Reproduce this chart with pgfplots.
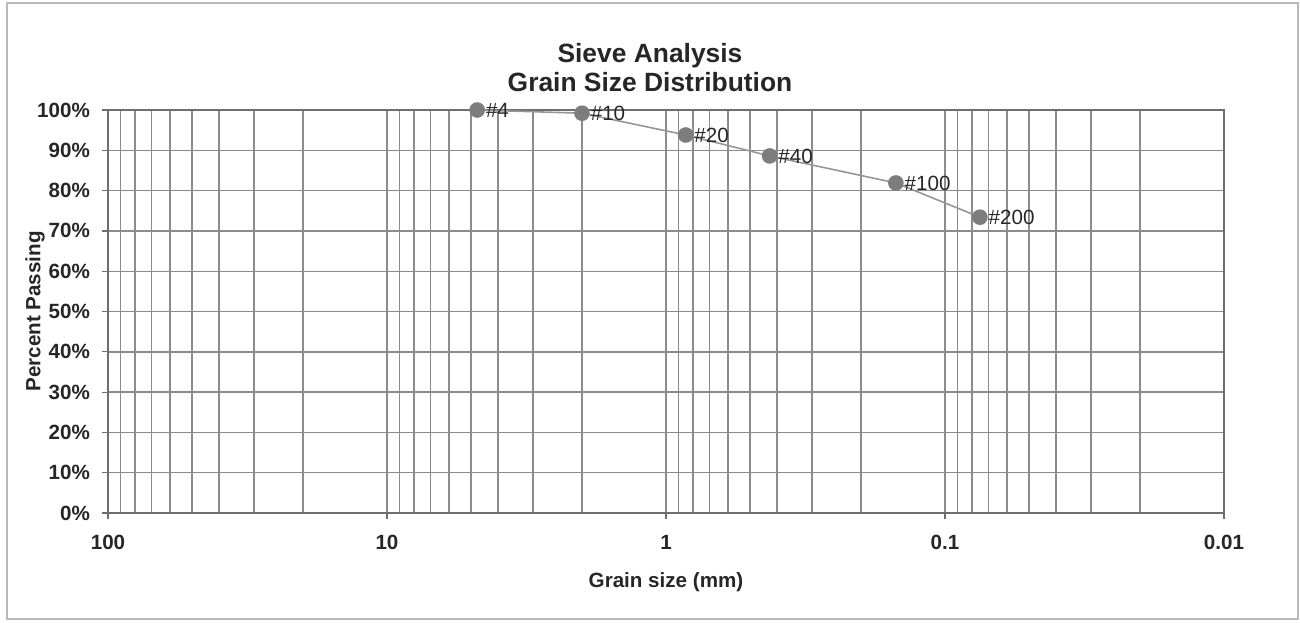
\documentclass[border=0pt]{standalone}
\usepackage{fontspec}
\setmainfont{Liberation Sans}
\usepackage{pgfplots}
\pgfplotsset{compat=1.18}
\definecolor{gridgray}{RGB}{140,140,140}
\definecolor{framegray}{RGB}{110,110,110}
\definecolor{markgray}{RGB}{125,125,125}
\definecolor{linegray}{RGB}{150,150,150}
\begin{document}
\begin{tikzpicture}[x=1pt,y=1pt]
\useasboundingbox (-54,-54.5) rectangle (596,256.5);
\draw[gray!55, line width=0.8pt] (-50.5,-53) rectangle (595,255);
\node[font=\fontsize{13.2}{15}\selectfont\bfseries, text=black!85, anchor=base] at (271,225) {Sieve Analysis};
\node[font=\fontsize{13.2}{15}\selectfont\bfseries, text=black!85, anchor=base] at (271,210.5) {Grain Size Distribution};
\begin{axis}[
  at={(0,0)}, anchor=south west,
  scale only axis, width=558pt, height=201.5pt,
  xmode=log, log basis x=10, x dir=reverse,
  xmin=0.01, xmax=100, ymin=0, ymax=100,
  xtick={100,10,1,0.1,0.01},
  xticklabels={100,10,1,0.1,0.01},
  minor xtick={0.02,0.03,0.04,0.05,0.06,0.07,0.08,0.09,
               0.2,0.3,0.4,0.5,0.6,0.7,0.8,0.9,
               2,3,4,5,6,7,8,9,
               20,30,40,50,60,70,80,90},
  ytick={0,10,20,30,40,50,60,70,80,90,100},
  minor ytick={},
  yticklabels={0\%,10\%,20\%,30\%,40\%,50\%,60\%,70\%,80\%,90\%,100\%},
  /pgf/number format/assume math mode=true,
  xtick pos=bottom, ytick pos=left,
  tick align=outside, major tick length=3pt, minor tick length=0pt,
  tick style={framegray, line width=0.6pt},
  grid=both,
  major grid style={gridgray, line width=0.7pt},
  minor grid style={gridgray, line width=0.7pt},
  axis line style={framegray, line width=1.2pt},
  ticklabel style={font=\fontsize{10.3}{12}\selectfont\bfseries, text=black!85},
  xticklabel style={yshift=-4.5pt},
  yticklabel style={xshift=-2.5pt},
  xlabel={Grain size (mm)},
  ylabel={Percent Passing},
  label style={font=\fontsize{10.3}{12}\selectfont\bfseries, text=black!85},
  xlabel style={at={(axis description cs:0.5,-0.171)}, anchor=center},
  ylabel style={at={(axis description cs:-0.0654,0.5)}, anchor=center},
  clip=false,
]
\addplot[linegray, line width=0.8pt,
  mark=*, mark size=3.5pt, mark options={fill=markgray, draw=markgray},
  nodes near coords, point meta=explicit symbolic,
  every node near coord/.style={anchor=west, xshift=3pt, yshift=0pt, inner sep=1pt,
     font=\fontsize{10.3}{12}\selectfont, text=black!85}]
coordinates {
  (4.75,100)[\#4]
  (2.0,99.2)[\#10]
  (0.85,93.8)[\#20]
  (0.425,88.6)[\#40]
  (0.15,81.9)[\#100]
  (0.075,73.4)[\#200]
};
\end{axis}
\end{tikzpicture}
\end{document}
